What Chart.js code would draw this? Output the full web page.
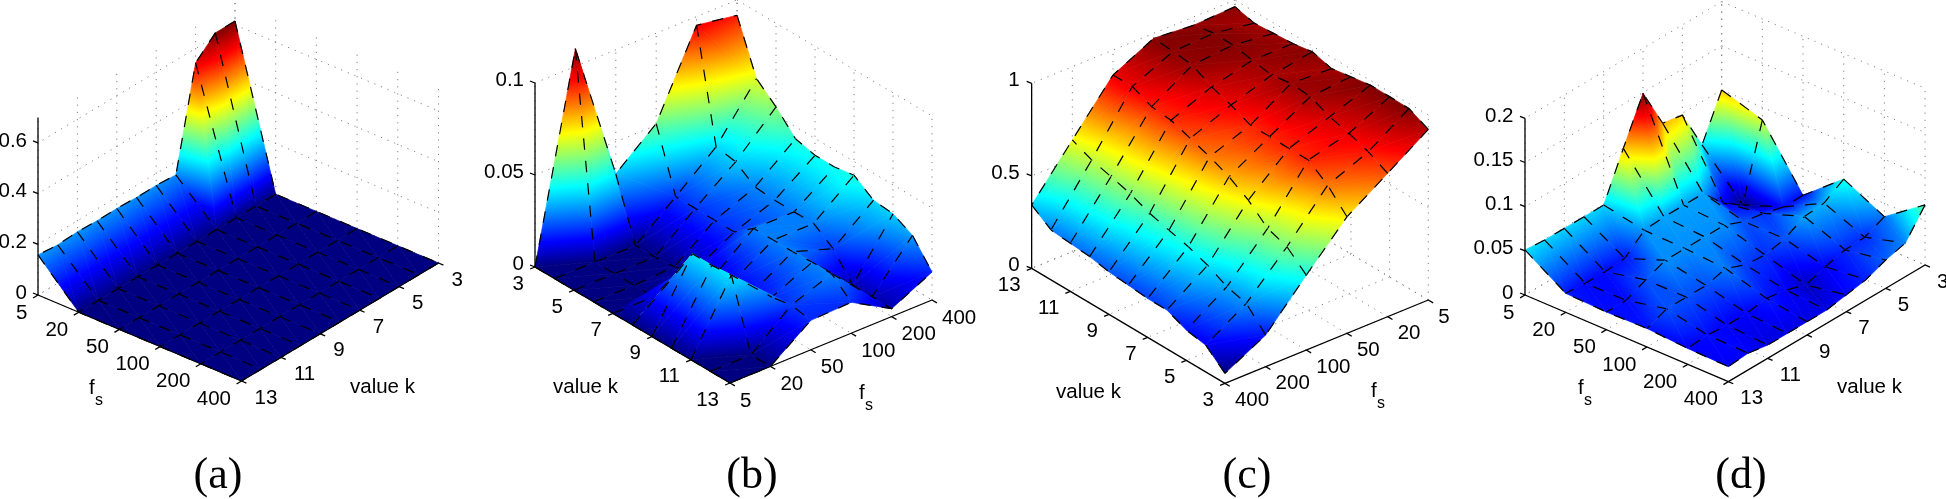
<!DOCTYPE html>
<html>
<head>
<meta charset="utf-8">
<title>surfaces</title>
<style>
  html, body { margin: 0; padding: 0; background: #fff; }
  canvas { display: block; }
</style>
<script src="https://cdn.jsdelivr.net/npm/chart.js@4/dist/chart.umd.min.js"></script>
</head>
<body>
<canvas id="surfCanvas" width="1946" height="499"></canvas>
<script>
var fsLabels = ['5', '20', '50', '100', '200', '400'];
var kLabels = ['3', '4', '5', '6', '7', '8', '9', '10', '11', '12', '13'];

// surface heights, one row per fs, columns k = 3..13
var zA = [
  [.615, .615, .543, .148, .153, .152, .155, .153, .156, .151, .158],
  [0, 0, 0, 0, 0, 0, 0, 0, 0, 0, 0],
  [0, 0, 0, 0, 0, 0, 0, 0, 0, 0, 0],
  [0, 0, 0, 0, 0, 0, 0, 0, 0, 0, 0],
  [0, 0, 0, 0, 0, 0, 0, 0, 0, 0, 0],
  [0, 0, 0, 0, 0, 0, 0, 0, 0, 0, 0]
];
var zB = [
  [0, 0, 0, 0, 0, 0, 0, 0, 0, 0, 0],
  [.1096, 0, 0, 0, 0, .017, .036, .036, .037, 0, 0],
  [.0326, 0, 0, .001, .005, .008, .012, .012, .016, .018, .016],
  [.0509, .0174, .0174, .0172, .0172, .0254, .0254, .0254, .026, .026, .0168],
  [.0953, .0355, .0337, .0263, .0254, .0254, .0254, .018, .0045, .0045, .0043],
  [.0917, .0636, .0545, .0435, .0408, .0408, .0426, .0353, .0342, .0288, .0152]
];
var zC = [
  [.922, .973, .975, .975, .958, .94, .969, .951, .944, .937, .964],
  [.775, .829, .867, .894, .941, .95, .933, .951, .971, .973, .955],
  [.63, .739, .813, .813, .815, .815, .861, .897, .953, .964, .973],
  [.405, .496, .533, .624, .688, .734, .771, .807, .818, .865, .865],
  [.171, .28, .308, .362, .40, .427, .456, .50, .53, .558, .604],
  [.054, .145, .164, .21, .21, .22, .23, .25, .26, .27, .342]
];
var zD = [
  [.10, .051, .098, .102, .149, .10, .049, .049, .049, .049, .051],
  [.0857, .0026, .018, .042, .042, .042, .04, .0215, .0196, .0196, .0215],
  [.02, .02, .026, .03, .039, .039, .039, .039, .03, .02, .02],
  [.058, .044, .042, .03, .025, .027, .036, .03, .03, .03, .021],
  [.035, .025, .024, .018, .0106, .018, .022, .018, .018, .02, .018],
  [.068, .038, .032, .023, .019, .015, .015, .015, .015, .019, .017]
];

var zTicksA = [0, .2, .4, .6];
var zTicksB = [0, .05, .1];
var zTicksC = [0, .5, 1];
var zTicksD = [0, .05, .1, .15, .2];
var zTickTextA = ['0', '0.2', '0.4', '0.6'];
var zTickTextB = ['0', '0.05', '0.1'];
var zTickTextC = ['0', '0.5', '1'];
var zTickTextD = ['0', '0.05', '0.1', '0.15', '0.2'];

// jet colormap
var jetStops = [0, .11, .36, .61, .86, 1];
var jetColors = [[0, 0, 128], [0, 0, 255], [0, 255, 255], [255, 255, 0], [255, 0, 0], [128, 0, 0]];

var gridColor = '#808080';
var textColor = '#000';
var tickFont = '20.5px "Liberation Sans"';
var subFont = '16px "Liberation Sans"';
var capFont = '44px "Liberation Serif"';

// projection of each panel: corner (fs=5,k=3), step per fs, step per k, pixels per z unit
var panels = [
  {z: zA, ticks: zTicksA, tickText: zTickTextA, top: .7, o: [235, 177], f: [40.7, 17.2], k: [-19.7, 11.8], zs: 253.5,
   backI: 0, backJ: 0, fsAxisJ: 10, kAxisI: 5, zAt: [0, 10], zDir: [-5, -2],
   fsOff: [-10.5, 18], fsAlign: 'right', kOff: [13, 17], kAlign: 'left', zOff: [-11, -2],
   name: [350, 387], fsName: [89, 397], cap: '(a)', capX: 218},
  {z: zB, ticks: zTicksB, tickText: zTickTextB, top: .1, o: [535, 267], f: [40.4, -16.6], k: [19.5, 11.6], zs: 1840,
   backI: 5, backJ: 0, fsAxisJ: 10, kAxisI: 0, zAt: [0, 0], zDir: [-5, -2],
   fsOff: [10, 18], fsAlign: 'left', kOff: [-11, 17], kAlign: 'right', zOff: [-11, -3],
   name: [553, 387], fsName: [859, 402], cap: '(b)', capX: 752},
  {z: zC, ticks: zTicksC, tickText: zTickTextC, top: 1, o: [1428.3, 300], f: [-40.67, 16.67], k: [-19.33, -11.5], zs: 185,
   backI: 0, backJ: 10, fsAxisJ: 0, kAxisI: 5, zAt: [5, 10], zDir: [-5, -2],
   fsOff: [10, 17], fsAlign: 'left', kOff: [-11, 17], kAlign: 'right', zOff: [-12, -3],
   name: [1056, 392], fsName: [1371, 400], cap: '(c)', capX: 1247},
  {z: zD, ticks: zTicksD, tickText: zTickTextD, top: .2, o: [1721.7, 178.3], f: [40.67, 17.33], k: [-19.67, 11.67], zs: 883.3,
   backI: 0, backJ: 0, fsAxisJ: 10, kAxisI: 5, zAt: [0, 10], zDir: [-5, -2],
   fsOff: [-10.5, 18], fsAlign: 'right', kOff: [12, 17], kAlign: 'left', zOff: [-11.5, -2],
   name: [1837, 387], fsName: [1578, 397], cap: '(d)', capX: 1741}
];

function project(p, i, j, z) {
  return {
    x: p.o[0] + i * p.f[0] + j * p.k[0],
    y: p.o[1] + i * p.f[1] + j * p.k[1] - z * p.zs
  };
}

function jetAt(t) {
  for (var n = 1; n < jetStops.length; n++) {
    if (t <= jetStops[n]) {
      var u = (t - jetStops[n - 1]) / (jetStops[n] - jetStops[n - 1]);
      var a = jetColors[n - 1], b = jetColors[n];
      return 'rgb(' + (a[0] + (b[0] - a[0]) * u) + ',' + (a[1] + (b[1] - a[1]) * u) + ',' + (a[2] + (b[2] - a[2]) * u) + ')';
    }
  }
  return 'rgb(128,0,0)';
}

// linear gradient that runs along the slope of one triangle
function triPaint(chart, pts, ts) {
  var mean = (ts[0] + ts[1] + ts[2]) / 3;
  if (!chart.chartArea) return jetAt(mean); // first pass, scales have no size yet
  var sx = chart.scales.x, sy = chart.scales.y;
  var x0 = sx.getPixelForValue(pts[0].x), y0 = sy.getPixelForValue(pts[0].y);
  var x1 = sx.getPixelForValue(pts[1].x), y1 = sy.getPixelForValue(pts[1].y);
  var x2 = sx.getPixelForValue(pts[2].x), y2 = sy.getPixelForValue(pts[2].y);
  var det = (x1 - x0) * (y2 - y0) - (x2 - x0) * (y1 - y0);
  if (Math.abs(det) < 1e-3) return jetAt(mean);
  var a = ((ts[1] - ts[0]) * (y2 - y0) - (ts[2] - ts[0]) * (y1 - y0)) / det;
  var b = ((x1 - x0) * (ts[2] - ts[0]) - (x2 - x0) * (ts[1] - ts[0])) / det;
  var g2 = a * a + b * b;
  if (g2 < 1e-9) return jetAt(mean);
  var grad = chart.ctx.createLinearGradient(
    x0 - ts[0] * a / g2, y0 - ts[0] * b / g2,
    x0 + (1 - ts[0]) * a / g2, y0 + (1 - ts[0]) * b / g2
  );
  for (var n = 0; n < jetStops.length; n++) {
    var c = jetColors[n];
    grad.addColorStop(jetStops[n], 'rgb(' + c[0] + ',' + c[1] + ',' + c[2] + ')');
  }
  return grad;
}

function lineSet(pts, color, width, dash, offset) {
  return {
    data: pts,
    showLine: true,
    fill: false,
    borderColor: color,
    borderWidth: width,
    borderDash: dash || [],
    borderDashOffset: offset || 0,
    pointRadius: 0,
    tension: 0,
    clip: false
  };
}

function triSet(pts, ts) {
  var paint = function(c) { return triPaint(c.chart, pts, ts); };
  return {
    data: [pts[0], pts[1], pts[2], pts[0]],
    showLine: true,
    fill: 'shape',
    backgroundColor: paint,
    borderColor: paint,
    borderWidth: 0.7,
    pointRadius: 0,
    tension: 0,
    clip: false
  };
}

var meshDash = [11.5, 11];
var dotDash = [1.2, 6];
var allSets = [];
var allText = [];

function addWalls(p) {
  var i, j, n;
  var nI = fsLabels.length - 1, nJ = kLabels.length - 1;
  var dot = function(a, b) { allSets.push(lineSet([a, b], gridColor, 1, dotDash)); };
  for (i = 0; i <= nI; i++) {
    dot(project(p, i, 0, 0), project(p, i, nJ, 0));
    dot(project(p, i, p.backJ, 0), project(p, i, p.backJ, p.top));
  }
  for (j = 0; j <= nJ; j += 2) {
    dot(project(p, 0, j, 0), project(p, nI, j, 0));
    dot(project(p, p.backI, j, 0), project(p, p.backI, j, p.top));
  }
  for (n = 0; n < p.ticks.length; n++) {
    dot(project(p, 0, p.backJ, p.ticks[n]), project(p, nI, p.backJ, p.ticks[n]));
    dot(project(p, p.backI, 0, p.ticks[n]), project(p, p.backI, nJ, p.ticks[n]));
  }
}

function addSurface(p) {
  var nI = p.z.length - 1, nJ = p.z[0].length - 1;
  var lo = Infinity, hi = -Infinity, i, j;
  for (i = 0; i <= nI; i++) {
    for (j = 0; j <= nJ; j++) {
      lo = Math.min(lo, p.z[i][j]);
      hi = Math.max(hi, p.z[i][j]);
    }
  }
  var tOf = function(a, b) { return (p.z[a][b] - lo) / (hi - lo); };
  var pt = function(a, b) { return project(p, a, b, p.z[a][b]); };

  // dash offsets keep the pattern running along a whole mesh line
  var rowLen = [], colLen = [];
  for (i = 0; i <= nI; i++) {
    rowLen[i] = [0];
    for (j = 1; j <= nJ; j++) {
      rowLen[i][j] = rowLen[i][j - 1] + Math.hypot(pt(i, j).x - pt(i, j - 1).x, pt(i, j).y - pt(i, j - 1).y);
    }
  }
  for (j = 0; j <= nJ; j++) {
    colLen[j] = [0];
    for (i = 1; i <= nI; i++) {
      colLen[j][i] = colLen[j][i - 1] + Math.hypot(pt(i, j).x - pt(i - 1, j).x, pt(i, j).y - pt(i - 1, j).y);
    }
  }

  // back to front: floor position higher on the page goes first
  var cells = [];
  for (i = 0; i < nI; i++) {
    for (j = 0; j < nJ; j++) {
      cells.push({i: i, j: j, depth: project(p, i + .5, j + .5, 0).y});
    }
  }
  cells.sort(function(a, b) { return a.depth - b.depth; });

  var seen = {};
  function edge(key, need, a, b, off) {
    seen[key] = (seen[key] || 0) + 1;
    if (seen[key] === need) allSets.push(lineSet([a, b], '#000', 1.2, meshDash, off));
  }
  cells.forEach(function(c) {
    var a = c.i, b = c.j;
    allSets.push(triSet([pt(a, b), pt(a + 1, b), pt(a + 1, b + 1)], [tOf(a, b), tOf(a + 1, b), tOf(a + 1, b + 1)]));
    allSets.push(triSet([pt(a, b), pt(a + 1, b + 1), pt(a, b + 1)], [tOf(a, b), tOf(a + 1, b + 1), tOf(a, b + 1)]));
    edge('r' + a + '_' + b, a === 0 ? 1 : 2, pt(a, b), pt(a, b + 1), rowLen[a][b]);
    edge('r' + (a + 1) + '_' + b, a + 1 === nI ? 1 : 2, pt(a + 1, b), pt(a + 1, b + 1), rowLen[a + 1][b]);
    edge('c' + a + '_' + b, b === 0 ? 1 : 2, pt(a, b), pt(a + 1, b), colLen[b][a]);
    edge('c' + a + '_' + (b + 1), b + 1 === nJ ? 1 : 2, pt(a, b + 1), pt(a + 1, b + 1), colLen[b + 1][a]);
  });
}

function addAxes(p) {
  var nI = fsLabels.length - 1, nJ = kLabels.length - 1, i, j, n, q;
  var solid = function(a, b) { allSets.push(lineSet([a, b], '#000', 1.3)); };
  var zi = p.zAt[0], zj = p.zAt[1];
  solid(project(p, 0, p.fsAxisJ, 0), project(p, nI, p.fsAxisJ, 0));
  solid(project(p, p.kAxisI, 0, 0), project(p, p.kAxisI, nJ, 0));
  solid(project(p, zi, zj, 0), project(p, zi, zj, p.top));

  // ticks point away from the floor, along the other axis
  var kOut = p.fsAxisJ === 0 ? -.25 : .25;
  var fOut = p.kAxisI === 0 ? -.12 : .12;
  for (i = 0; i <= nI; i++) {
    q = project(p, i, p.fsAxisJ, 0);
    solid(q, {x: q.x + kOut * p.k[0], y: q.y + kOut * p.k[1]});
    allText.push({text: fsLabels[i], x: q.x + p.fsOff[0], y: q.y + p.fsOff[1], align: p.fsAlign, font: tickFont});
  }
  for (j = 0; j <= nJ; j += 2) {
    q = project(p, p.kAxisI, j, 0);
    solid(q, {x: q.x + fOut * p.f[0], y: q.y + fOut * p.f[1]});
    allText.push({text: kLabels[j], x: q.x + p.kOff[0], y: q.y + p.kOff[1], align: p.kAlign, font: tickFont});
  }
  for (n = 0; n < p.ticks.length; n++) {
    q = project(p, zi, zj, p.ticks[n]);
    solid(q, {x: q.x + p.zDir[0], y: q.y + p.zDir[1]});
    allText.push({text: p.tickText[n], x: q.x + p.zOff[0], y: q.y + p.zOff[1], align: 'right', font: tickFont});
  }
  allText.push({text: 'value k', x: p.name[0], y: p.name[1], align: 'left', font: tickFont});
  allText.push({text: 'f', x: p.fsName[0], y: p.fsName[1] - 9, align: 'left', font: tickFont});
  allText.push({text: 's', x: p.fsName[0] + 6, y: p.fsName[1] + 4, align: 'left', font: subFont});
  allText.push({text: p.cap, x: p.capX, y: 476, align: 'center', font: capFont});
}

panels.forEach(function(p) {
  addWalls(p);
  addSurface(p);
  addAxes(p);
});

// chart.js paints the first dataset last, the list above is in paint order
allSets.reverse();

var labelPlugin = {
  id: 'labelPlugin',
  afterDraw: function(chart) {
    var ctx = chart.ctx;
    ctx.save();
    ctx.fillStyle = textColor;
    ctx.textBaseline = 'middle';
    allText.forEach(function(t) {
      ctx.font = t.font;
      ctx.textAlign = t.align;
      ctx.fillText(t.text, t.x, t.y);
    });
    ctx.restore();
  }
};

new Chart(document.getElementById('surfCanvas').getContext('2d'), {
  type: 'scatter',
  data: {datasets: allSets},
  options: {
    responsive: false,
    animation: false,
    events: [],
    layout: {padding: 0},
    scales: {
      x: {type: 'linear', display: false, min: 0, max: 1946},
      y: {type: 'linear', display: false, min: 0, max: 499, reverse: true}
    },
    plugins: {
      legend: {display: false},
      tooltip: {enabled: false},
      filler: {drawTime: 'beforeDatasetDraw'}
    }
  },
  plugins: [labelPlugin]
});
</script>
</body>
</html>
